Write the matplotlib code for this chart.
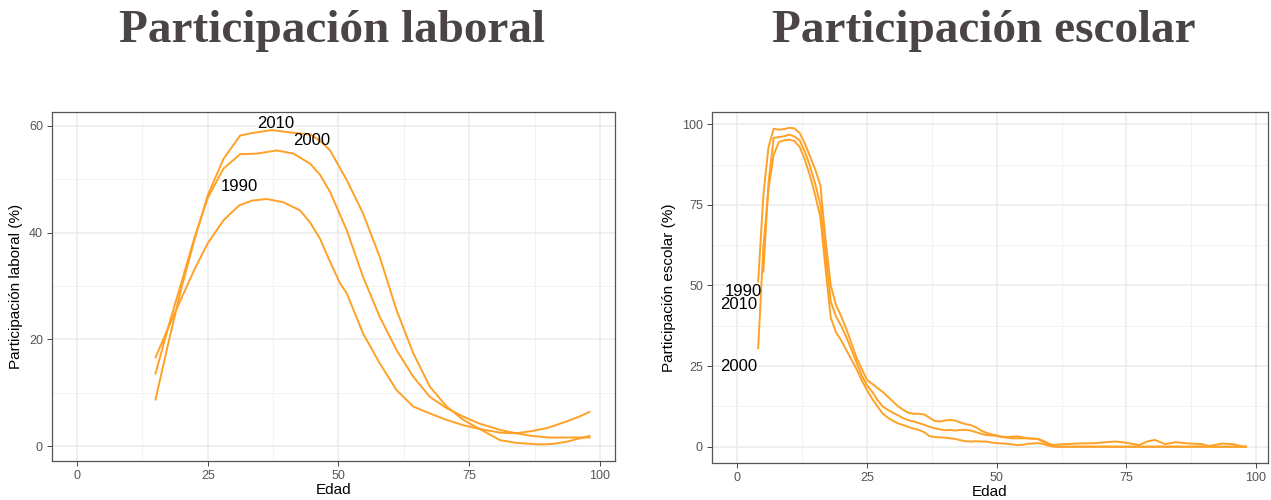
import numpy as np
import matplotlib
matplotlib.use("Agg")
import matplotlib.pyplot as plt
from matplotlib.ticker import MultipleLocator

plt.rcParams['font.family'] = ['Liberation Sans', 'DejaVu Sans']

# Participación laboral (%), por edad
edad_lab_1990 = [15, 17.5, 20, 22.5, 25, 28, 31, 33.5, 36.3, 39.4, 42.6, 44.5, 46.5, 48.4, 50.3, 51.6,
                 54.7, 57.9, 61.1, 64.3, 67.5, 70.7, 73.9, 77, 81, 84, 87, 90, 93.6, 96, 98]
lab_1990 = [16.6, 22.3, 27.8, 33.2, 38.0, 42.3, 45.1, 46.0, 46.3, 45.7, 44.2, 42.0, 38.8, 34.5, 30.5, 28.6,
            21.1, 15.5, 10.5, 7.4, 6.1, 4.9, 3.9, 3.2, 2.5, 2.4, 2.8, 3.4, 4.6, 5.5, 6.4]

edad_lab_2000 = [15, 17.5, 20, 22.5, 25, 28, 31.2, 34.4, 38.2, 41.4, 44.6, 46.5, 48.4, 51.6, 54.7, 57.9,
                 61.1, 64.3, 67.5, 70.7, 73.9, 77, 81, 84, 87, 90.4, 94, 98]
lab_2000 = [13.6, 22.5, 30.8, 39.2, 46.5, 52.0, 54.7, 54.8, 55.4, 54.8, 52.9, 50.8, 47.6, 40.4, 31.7, 24.2,
            18.0, 13.0, 9.2, 7.1, 5.5, 4.2, 3.0, 2.4, 1.9, 1.6, 1.6, 1.6]

edad_lab_2010 = [15, 17.5, 20, 22.5, 25, 28, 31.2, 33.7, 37.2, 41.4, 44.6, 46.5, 48.4, 51.6, 54.7, 57.9,
                 61.1, 64.3, 67.5, 70.7, 73.9, 77, 80.9, 84, 88.5, 91, 93.6, 96, 98]
lab_2010 = [8.7, 19.5, 29.8, 38.8, 47.0, 53.8, 58.2, 58.7, 59.2, 58.7, 58.4, 57.2, 55.4, 49.8, 43.6, 35.4,
            25.5, 17.4, 11.1, 7.4, 4.9, 3.2, 1.1, 0.6, 0.3, 0.4, 0.8, 1.4, 1.9]

# Participación escolar (%), por edad
edad_esc_1990 = list(range(4, 62)) + [63, 66, 69, 71, 73, 75, 77.5, 79, 80.5, 82.5, 84.5, 87, 89.5, 91,
                                      93.5, 95.5, 97.6, 98]
esc_1990 = [51.2, 78, 93, 98.6, 98.3, 98.5, 98.9, 98.7, 97.3, 94, 90, 86, 81, 64, 50, 44, 40.5, 36.5,
            32, 27.5, 24, 20.7, 19.5, 18.2, 17, 15.5, 14, 12.5, 11.4, 10.5, 10.2, 10.2, 10.0, 9.0, 8.0,
            7.8, 8.1, 8.3, 8.1, 7.5, 7.0, 6.7, 6.0, 5.0, 4.3, 3.8, 3.5, 3.1, 3.0, 3.1, 3.2, 2.9, 2.6,
            2.5, 2.4, 1.8, 1.0, 0.5,
            0.8, 1.0, 1.1, 1.4, 1.6, 1.2, 0.5, 1.6, 2.1, 0.8, 1.4, 1.0, 0.8, 0.2, 1.0, 0.8, 0.0, 0.0]

edad_esc_2000 = list(range(4, 62)) + [98]
esc_2000 = [30.5, 62, 80, 90.6, 94.5, 95, 95.2, 94.8, 93, 89, 84, 78, 71, 55, 40, 35.5, 33, 30, 27,
            24, 20.5, 17.5, 14.8, 12.5, 10.3, 9.0, 8.0, 7.2, 6.7, 6.1, 5.6, 5.2, 4.5, 3.3, 3.0, 2.9,
            2.8, 2.6, 2.4, 2.0, 1.7, 1.6, 1.7, 1.6, 1.6, 1.3, 1.1, 1.0, 0.9, 0.7, 0.5, 0.6, 0.9, 1.0,
            1.1, 0.8, 0.3, 0.0, 0.0]

edad_esc_2010 = list(range(5, 63)) + [98]
esc_2010 = [54.3, 82, 95.8, 96, 96.3, 96.8, 96.2, 95, 91.5, 87, 81.5, 75, 60, 45, 40.4, 37.5, 34, 30,
            26, 22, 19, 17, 14.5, 12.5, 11.4, 10.5, 9.7, 8.8, 8.2, 7.8, 7.3, 6.8, 6.2, 5.7, 5.4, 5.1,
            5.2, 5.0, 5.2, 5.2, 5.0, 4.5, 4.0, 3.6, 3.5, 3.3, 3.0, 2.8, 2.6, 2.6, 2.6, 2.6, 2.5, 2.3,
            1.5, 0.7, 0.2, 0.0, 0.0]

# etiquetas de año (posición x, y)
etiquetas_lab = {"2010": (37.9, 60.5), "2000": (44.9, 57.3), "1990": (31.0, 48.7)}
etiquetas_esc = {"1990": (1.1, 48.0), "2010": (0.3, 44.0), "2000": (0.3, 24.8)}

naranja = "#FFA126"
gris_tit = "#4B4447"

fig = plt.figure(figsize=(12.71, 5.0), dpi=100)
ax1 = fig.add_axes([0.0409, 0.078, 0.443, 0.698])
ax2 = fig.add_axes([0.5602, 0.074, 0.4374, 0.702])


def estilo(ax, xlim, ylim, ymaj, ymin, ylabel):
    ax.set_xlim(*xlim)
    ax.set_ylim(*ylim)
    ax.xaxis.set_major_locator(MultipleLocator(25))
    ax.xaxis.set_minor_locator(MultipleLocator(12.5))
    ax.yaxis.set_major_locator(MultipleLocator(ymaj))
    ax.yaxis.set_minor_locator(MultipleLocator(ymin))
    ax.grid(which="major", color="#EBEBEB", lw=1.1, zorder=0)
    ax.grid(which="minor", color="#F2F2F2", lw=0.7, zorder=0)
    ax.set_axisbelow(True)
    for s in ax.spines.values():
        s.set_color("#555555")
        s.set_linewidth(0.9)
    ax.tick_params(which="major", length=3.5, width=0.7, color="#444444",
                   labelsize=9, labelcolor="#555555", pad=3)
    ax.tick_params(which="minor", length=0)
    ax.set_xlabel("Edad", fontsize=11, labelpad=1)
    ax.set_ylabel(ylabel, fontsize=11, labelpad=4)


for x, y in [(edad_lab_1990, lab_1990), (edad_lab_2000, lab_2000), (edad_lab_2010, lab_2010)]:
    ax1.plot(x, y, color=naranja, lw=1.4, zorder=3)
for t, (x, y) in etiquetas_lab.items():
    ax1.text(x, y, t, ha="center", va="center", fontsize=12, color="black", zorder=4)
estilo(ax1, (-4.8, 102.9), (-2.8, 62.6), 20, 10, "Participación laboral (%)")

for x, y in [(edad_esc_1990, esc_1990), (edad_esc_2000, esc_2000), (edad_esc_2010, esc_2010)]:
    ax2.plot(x, y, color=naranja, lw=1.4, zorder=3)
for t, (x, y) in etiquetas_esc.items():
    ax2.text(x, y, t, ha="center", va="center", fontsize=12, color="black", zorder=4)
estilo(ax2, (-4.9, 102.3), (-5.06, 103.8), 25, 12.5, "Participación escolar (%)")

fig.text(0.261, 0.937, "Participación laboral", ha="center", va="center", fontsize=34,
         fontweight="bold", family="Liberation Serif", color=gris_tit)
fig.text(0.774, 0.937, "Participación escolar", ha="center", va="center", fontsize=34,
         fontweight="bold", family="Liberation Serif", color=gris_tit)

fig.savefig("out.png", dpi=100)
